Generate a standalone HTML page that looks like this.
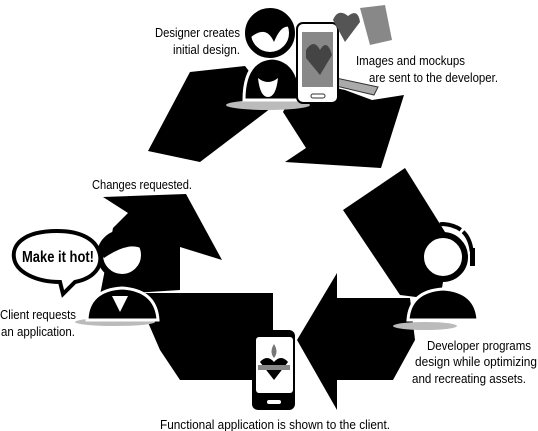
<!DOCTYPE html>
<html><head><style>
body{margin:0;background:#fff}
svg{display:block}
text{font-family:"Liberation Sans",sans-serif;font-size:13px;fill:#000}
</style></head><body>
<svg width="538" height="431" viewBox="0 0 538 431">
<polygon points="148,151 190,72 245,66 275,105 200,162" fill="#000"/>
<polygon points="283,112 300,80 345,90 372,100 404,95 381,168 285,162 306,148" fill="#000"/>
<polygon points="343,210 405,168 450,240 440,300 400,295" fill="#000"/>
<polygon points="297,340 337,273 337,298 410,298 415,340 393,380 337,380 337,410" fill="#000"/>
<polygon points="143,293 273,293 273,380 180,380 160,350 147,320" fill="#000"/>
<polygon points="103,197 186,194 222,260 180,247 180,290 100,295 113,228 128,213" fill="#000"/>
<ellipse cx="268" cy="105" rx="42" ry="5" fill="#bbb"/>
<path d="M244,100 Q244,60 272,58 Q300,60 301,100 Z" fill="#000" stroke="#fff" stroke-width="3"/>
<path d="M258,78 Q260,97 268,97 Q276,97 278,78 Q268,86 258,78 Z" fill="#fff"/>
<circle cx="270" cy="33" r="22" fill="#fff" stroke="#000" stroke-width="6"/>
<path d="M248,32 Q248,10 270,10 Q290,10 292,28 Q282,22 274,42 Q266,24 250,38 Z" fill="#000"/>
<path d="M336,78 L378,87 L374,95 L336,86 Z" fill="#aaa" stroke="#333" stroke-width="1"/>
<rect x="297" y="23" width="41" height="80" rx="6" fill="#fff" stroke="#000" stroke-width="2"/>
<rect x="302" y="32" width="31" height="55" fill="#888"/>
<path d="M306,50 Q314,38 320,50 Q327,38 332,55 L320,75 L306,58 Z" fill="#444"/>
<rect x="311" y="94" width="14" height="4" rx="2" fill="none" stroke="#333"/>
<path d="M333,20 Q338,8 348,16 Q358,8 360,22 L345,42 Z" fill="#555"/>
<path d="M360,8 L385,5 L392,40 L370,45 Z" fill="#888"/>
<ellipse cx="115" cy="322" rx="40" ry="4" fill="#bbb"/>
<path d="M87,320 Q88,290 122,288 Q156,290 158,320 Z" fill="#000" stroke="#fff" stroke-width="3"/>
<path d="M112,296 L128,296 L120,312 Z" fill="#fff"/>
<circle cx="122" cy="255" r="22" fill="#fff" stroke="#000" stroke-width="6"/>
<path d="M100,252 Q100,233 122,233 Q143,233 144,250 Q130,240 104,258 Z" fill="#000"/>
<path d="M57,231 C22,231 12,246 14,258 C16,272 36,282 60,282 L63,294 L75,282 C95,278 102,266 100,255 C97,240 82,231 57,231 Z" fill="#fff" stroke="#000" stroke-width="4"/>
<text x="22" y="262" textLength="72" lengthAdjust="spacingAndGlyphs" style="font-size:16px;font-weight:bold">Make it hot!</text>
<ellipse cx="425" cy="326" rx="32" ry="4" fill="#bbb"/>
<path d="M408,320 Q410,291 443,289 Q476,291 478,320 Z" fill="#000" stroke="#fff" stroke-width="3"/>
<circle cx="443" cy="257" r="22" fill="#fff" stroke="#000" stroke-width="6"/>
<path d="M416,262 Q414,226 443,224 Q472,226 472,258" fill="none" stroke="#000" stroke-width="4" stroke-dasharray="22 3"/>
<rect x="413" y="252" width="6" height="18" fill="#000"/>
<rect x="470" y="248" width="5" height="18" fill="#000"/>
<rect x="252" y="330" width="43" height="80" rx="6" fill="#000"/>
<rect x="256" y="337" width="37" height="56" rx="3" fill="#fff"/>
<path d="M260,362 Q267,354 274,362 Q281,354 288,362 L274,380 Z" fill="#000"/>
<rect x="258" y="365" width="32" height="5" fill="#888"/>
<path d="M274,344 Q269,352 274,358 Q279,352 274,344 Z" fill="#777"/>
<rect x="267" y="400" width="14" height="4" rx="2" fill="#fff"/>
<text x="155" y="37" textLength="85" lengthAdjust="spacingAndGlyphs">Designer creates</text>
<text x="173" y="54" textLength="67" lengthAdjust="spacingAndGlyphs">initial design.</text>
<text x="356" y="65" textLength="109" lengthAdjust="spacingAndGlyphs">Images and mockups</text>
<text x="369" y="82" textLength="129" lengthAdjust="spacingAndGlyphs">are sent to the developer.</text>
<text x="92" y="189" textLength="100" lengthAdjust="spacingAndGlyphs">Changes requested.</text>
<text x="0" y="319" textLength="76" lengthAdjust="spacingAndGlyphs">Client requests</text>
<text x="1" y="336" textLength="74" lengthAdjust="spacingAndGlyphs">an application.</text>
<text x="427" y="350" textLength="104" lengthAdjust="spacingAndGlyphs">Developer programs</text>
<text x="415" y="366" textLength="122" lengthAdjust="spacingAndGlyphs">design while optimizing</text>
<text x="412" y="383" textLength="114" lengthAdjust="spacingAndGlyphs">and recreating assets.</text>
<text x="160" y="429" textLength="230" lengthAdjust="spacingAndGlyphs">Functional application is shown to the client.</text>
</svg>
</body></html>
